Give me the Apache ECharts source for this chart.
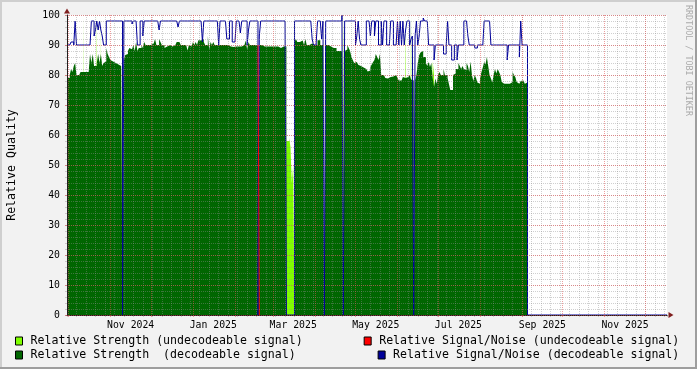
<!DOCTYPE html>
<html><head><meta charset="utf-8">
<script src="https://cdn.jsdelivr.net/npm/echarts@6/dist/echarts.min.js"></script>
<style>html,body{margin:0;padding:0;background:#F2F2F2}#c{width:697px;height:369px}</style>
</head><body><div id="c"></div>
<script>
// ---- time domain: day offsets from 2024-09-30 (00:00 UTC) ----
const START_DATE = '2024-09-30';
const SPAN_DAYS = 443;

// Relative Strength (decodeable signal), one value per day from day 0
const strengthDecodeable = [
 79,79,80,82,81,83,84,80,80,80, 81,81,81,81,81,81,81,87,84,87, 83,83,84,87,84,87,83,84,84.5,89,
 87,86,85,84.5,85,84,84,83.5,83.5,83, 83,0,85,86.7,87,88,89,88.6,88,90, 88,91,88,89,89,90,
 89,91,90,90,90,90,90,90.5,91,92, 90,90,92,91,90,90,89,89.5,90,90, 89.5,89.5,89.5,90,90,91,91,90.5,90,90,
 90,90,89.5,88.2,90,89.5,90,91,90,91, 90,91.6,91.5,92,92,91,90,90,93,88.5, 91,90,91,90,90,90.5,90,90,90,89.5,
 90,90,90,90,89.5,89.5,89.3,89.3,89.5,90, 89.5,90,89.5,89.5,90,90,91.5,88.5,91,90,
 90,90,90,90,90,0,90,90,90.5,89.5, 89.5,89.5,90,89.5,89.5,89.5,90,89.5,89.5,89.5, 89,89,89,89.5,90,89.5,
 0,0,0,0,0,0,
 91,92,91,91,91,91.5,92,90,92,90, 90,90.5,90.5,90,90,90,90,91.6,91.6,90, 90,90,
 0,
 90,90,90,89.5,89.5,89,89,89,88,88,88,88,88,
 0,
 88,88.5,90,89,88,86,85,84,84.3,84, 83.4,83,82.7,82.5,82.2,82,81.8,81.2,81.5,82.7,
 83.5,84.3,85,87,86,85,87,80,80,79.5, 79,78.8,79,79.3,79,79.5,80,80,80.5,79,
 78.2,78.2,78.5,79.3,79,79,79.3,79.3,80,78.5, 78.2,
 0,
 78.2,80,84,86.6,87.5,88,86,86,84,83, 84.3,82.7,84,79,76,78.8,77.1,80,81,80,
 80,82,80,80,79,77,75,75,80,80.5, 82,82,84,
 83,82,83,82,81.6,84,83,81,84.5,80, 78,80,79,77.5,77.1,78.8,81,82.5,84.3,83.5,
 86,83,80,78.8,77.5,80,82,80.5,82,81, 79.9,77.7,77.1,77.1,77.1,77.1,77.1,77.3,77.7,81,
 80,79.3,77.7,77.1,77.1,78,78.2,78.2,77.1,77.5
];

// Relative Signal/Noise (decodeable signal), one value per day from day 0
const snrDecodeable = [
 90,90,90,91,91,90,98,90,90,90, 90,90,90,90,90,90,90,90,98,98,
 93,95,98,95,98,95,93,90,90,98, 98,98,98,98,98,98,98,98,98,98,
 98,0,98,98,98,98,98,98,97,98, 98,98,90,90,98,98,93,98,98,98,
 98,98,98,98,98,98,98,98,95,98, 98,98,98,98,98,98,98,98,98,98,
 98,98,96,98,98,98,98,98,98,98, 98,98,98,98,98,98,98,98,98,98,
 91,98,98,98,98,98,98,98,98,98, 98,98,90,98,98,98,98,98,92,92,
 98,98,91,91,91,98,98,98,94,98, 98,98,98,90,95,98,98,98,98,98,
 98,0,93,98,98,98,98,98,98,98, 98,98,98,98,98,98,98,98,98,98,
 98,98,0,0,0,0,0,0,98,98, 98,98,98,98,98,98,98,98,98,98,
 98,92,90,90,91,98,98,98,92,98, 0,98,98,98,98,98,98,98,98,98,
 98,98,98,100,0,98,98,98,98,98, 98,98,98,90,93,98,92,90,90,90,
 90,98,98,98,93,98,98,93,98,98, 90,90,98,90,98,98,90,90,90,98,
 98,90,90,90,98,90,98,90,98,90, 95,98,98,90,92,93,0,93,98,90,
 93,98,98,99,98,98,98,90,90,90, 90,85,90,90,90,90,90,90,87,87,
 90,98,90,90,85,85,90,90,85,90, 90,90,90,98,98,98,93,90,90,90,
 90,89,89,90,90,90,90,90,98,98, 98,98,98,90,90,90,90,90,90,90,
 90,90,90,90,90,85,90,90,90,90, 90,90,90,90,86,98,90,90,90,90
];

// Relative Strength (undecodeable signal): days and values
const strengthUndecDays = [12,22,25,40,162,163,164,165,166,167,170,194,204,250,254,266,270,271,292,334];
const strengthUndecVals = [100,100,100,84.5,58,58,59,56,44,50,92,91,100,100,100,84.5,84.5,80,85,79];

// Relative Signal/Noise (undecodeable signal): days and values (unknown elsewhere)
const snrUndecDays = [141, 142];
const snrUndecVals = [90, 0];

// time grid / labels
const monthStartDates = ['2024-10-01','2024-11-01','2024-12-01','2025-01-01','2025-02-01','2025-03-01','2025-04-01',
  '2025-05-01','2025-06-01','2025-07-01','2025-08-01','2025-09-01','2025-10-01','2025-11-01','2025-12-01'];
const labelMonthDates = ['2024-11-01','2025-01-01','2025-03-01','2025-05-01','2025-07-01','2025-09-01','2025-11-01'];
const xTickLabels = ['Nov 2024','Jan 2025','Mar 2025','May 2025','Jul 2025','Sep 2025','Nov 2025'];

const NAME_LIME = 'Relative Strength (undecodeable signal)';
const NAME_GREEN = 'Relative Strength  (decodeable signal)';
const NAME_RED = 'Relative Signal/Noise (undecodeable signal)';
const NAME_BLUE = 'Relative Signal/Noise (decodeable signal)';

// ---- build ----
const DAY = 86400000;
const t0 = Date.parse(START_DATE + 'T00:00:00Z');
const toDay = s => (Date.parse(s + 'T00:00:00Z') - t0) / DAY;
const monthDays = monthStartDates.map(toDay);
const labelDays = labelMonthDates.map(s => toDay(s) + 15);
const N = strengthDecodeable.length;

const greenData = strengthDecodeable.map((v, d) => [d, v]);
greenData.push([N, 0]);
const limeByDay = {};
strengthUndecDays.forEach((d, i) => { limeByDay[d] = strengthUndecVals[i]; });
const limeData = [];
for (let d = 0; d < N; d++) limeData.push([d, limeByDay[d] || 0]);
limeData.push([N, 0]);
const blueData = snrDecodeable.map((v, d) => [d, v]);
blueData.push([N, 0], [SPAN_DAYS, 0]);
const redData = snrUndecDays.map((d, i) => [d, snrUndecVals[i]]);

const FONT = 'DejaVu Sans Mono';
const GRID_MINOR = 'rgba(143,143,143,0.42)';
const GRID_MAJOR = 'rgba(222,79,79,0.55)';

const chart = echarts.init(document.getElementById('c'), null, {renderer: 'canvas', width: 697, height: 369});

const legendBase = {
  orient: 'horizontal', icon: 'rect', itemWidth: 7, itemHeight: 8, itemGap: 0, padding: 0,
  selectedMode: false, itemStyle: {borderColor: '#000', borderWidth: 1},
  textStyle: {fontFamily: FONT, fontSize: 11.6, color: '#000', padding: [0, 0, 0, 3]}
};

const hiddenX = {type: 'value', min: 0, max: SPAN_DAYS, position: 'bottom',
  axisLine: {show: false, onZero: false}, axisTick: {show: false}, axisLabel: {show: false}, splitLine: {show: false}};
const hiddenY = {type: 'value', min: 0, max: 100, position: 'left',
  axisLine: {show: false, onZero: false}, axisTick: {show: false}, axisLabel: {show: false}, splitLine: {show: false}};

const option = {
  animation: false,
  backgroundColor: '#F2F2F2',
  grid: {left: 67, top: 15, width: 600, height: 300, show: true, backgroundColor: '#FFFFFF', borderWidth: 0,
         containLabel: false, outerBoundsMode: 'none'},
  legend: [
    Object.assign({}, legendBase, {data: [NAME_LIME], left: 15, top: 335}),
    Object.assign({}, legendBase, {data: [NAME_GREEN], left: 15, top: 349}),
    Object.assign({}, legendBase, {data: [NAME_RED], right: 17.7, top: 335}),
    Object.assign({}, legendBase, {data: [NAME_BLUE], right: 17.7, top: 349})
  ],
  xAxis: [
    Object.assign({}, hiddenX),
    Object.assign({}, hiddenX, {z: 10, interval: 7,
      axisTick: {show: true, length: 2, lineStyle: {color: GRID_MINOR}},
      splitLine: {show: true, showMaxLine: false, lineStyle: {color: GRID_MINOR, width: 1, type: [1, 1]}}}),
    Object.assign({}, hiddenX, {z: 11,
      axisLine: {show: true, onZero: false, lineStyle: {color: '#1F1F1F'}},
      axisTick: {show: true, length: 2, customValues: monthDays, lineStyle: {color: GRID_MAJOR}},
      axisLabel: {show: true, customValues: labelDays, margin: 5, fontFamily: FONT, fontSize: 9.8, color: '#000',
        formatter: v => { const i = labelDays.indexOf(v); return i >= 0 ? xTickLabels[i] : ''; }},
      splitLine: {show: true, lineStyle: {color: GRID_MAJOR, width: 1, type: [1, 1]}}}),
    Object.assign({}, hiddenX, {z: 12,
      axisLine: {show: true, onZero: false, symbol: ['none', 'triangle'], symbolSize: [6, 5], symbolOffset: [0, 4],
        lineStyle: {color: '#801F1F', opacity: 0}}})
  ],
  yAxis: [
    Object.assign({}, hiddenY, {z: 12, interval: 10,
      axisLine: {show: true, onZero: false, lineStyle: {color: '#1F1F1F'}},
      axisTick: {show: true, length: 2, lineStyle: {color: GRID_MAJOR}},
      axisLabel: {show: true, margin: 7, fontFamily: FONT, fontSize: 9.8, color: '#000'},
      splitLine: {show: true, lineStyle: {color: GRID_MAJOR, width: 1, type: [1, 1]}},
      name: 'Relative Quality', nameLocation: 'middle', nameRotate: 90, nameGap: 49,
      nameTextStyle: {fontFamily: FONT, fontSize: 11.6, color: '#000'}}),
    Object.assign({}, hiddenY, {z: 10, interval: 2,
      axisTick: {show: true, length: 2, lineStyle: {color: GRID_MINOR}},
      splitLine: {show: true, lineStyle: {color: GRID_MINOR, width: 1, type: [1, 1]}}}),
    Object.assign({}, hiddenY, {z: 13,
      axisLine: {show: true, onZero: false, symbol: ['none', 'triangle'], symbolSize: [6, 5], symbolOffset: [0, 4],
        lineStyle: {color: '#801F1F', opacity: 0}}})
  ],
  series: [
    {name: NAME_LIME, type: 'line', step: 'end', data: limeData, xAxisIndex: 0, yAxisIndex: 0,
     showSymbol: false, silent: true, color: '#7FFF00', lineStyle: {width: 0}, areaStyle: {color: '#7FFF00', opacity: 1}, z: 2},
    {name: NAME_GREEN, type: 'line', step: 'end', data: greenData, xAxisIndex: 0, yAxisIndex: 0,
     showSymbol: false, silent: true, color: '#006600', lineStyle: {width: 0}, areaStyle: {color: '#006600', opacity: 1}, z: 3},
    {name: NAME_BLUE, type: 'line', step: 'end', data: blueData, xAxisIndex: 0, yAxisIndex: 0,
     showSymbol: false, silent: true, color: '#000099', lineStyle: {width: 1, color: '#000099'}, z: 4},
    {name: NAME_RED, type: 'line', step: 'end', data: redData, xAxisIndex: 0, yAxisIndex: 0,
     showSymbol: false, silent: true, color: '#FF0000', lineStyle: {width: 1, color: '#FF0000'}, z: 5}
  ],
  graphic: [
    {type: 'rect', shape: {x: 0, y: 0, width: 697, height: 2}, style: {fill: '#CFCFCF'}, silent: true},
    {type: 'rect', shape: {x: 0, y: 0, width: 2, height: 369}, style: {fill: '#CFCFCF'}, silent: true},
    {type: 'rect', shape: {x: 0, y: 367, width: 697, height: 2}, style: {fill: '#9E9E9E'}, silent: true},
    {type: 'rect', shape: {x: 695, y: 0, width: 2, height: 369}, style: {fill: '#9E9E9E'}, silent: true},
    {type: 'text', x: 688, y: 5, rotation: -Math.PI / 2, silent: true,
     style: {text: 'RRDTOOL / TOBI OETIKER', fontFamily: FONT, fontSize: 8.4, fill: '#ABABAB', align: 'left', verticalAlign: 'middle'}}
  ]
};
chart.setOption(option);
</script></body></html>
